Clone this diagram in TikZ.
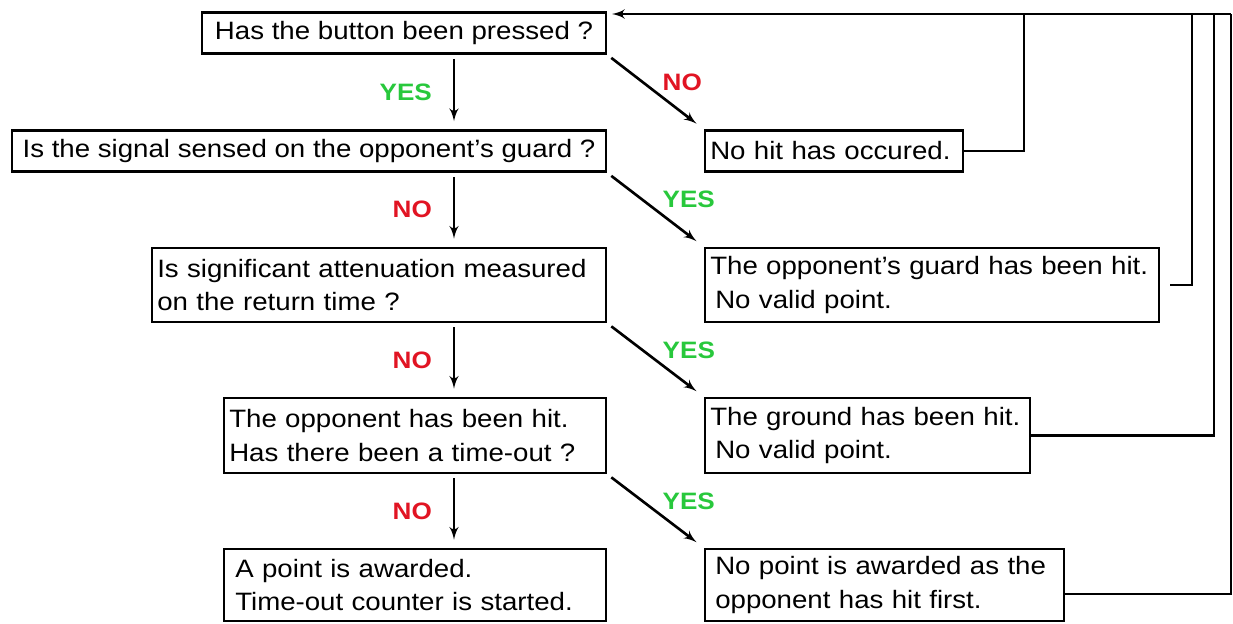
\documentclass[tikz,border=0pt]{standalone}
\usepackage{fontspec}
\setmainfont[FakeStretch=1.1]{Liberation Sans}
\usepackage{tikz}
\usetikzlibrary{positioning,arrows,calc,shapes}
\definecolor{yesgreen}{RGB}{40,200,60}
\definecolor{nored}{RGB}{225,20,35}
\tikzset{
    box/.style = {
        draw,
        shape=rectangle,
        line width=1.5pt,
        inner xsep=3pt,
        inner ysep=0pt,
        minimum height=0.82cm,
        font=\fontsize{14.3}{19.3}\selectfont,
        align=left
    },
    twoline/.style = {
        box,
        minimum height=1.48cm
    },
    answeryes/.style = {
        text=yesgreen,
        font=\fontsize{13.5}{16}\selectfont\bfseries
    },
    answerno/.style = {
        text=nored,
        font=\fontsize{13.5}{16}\selectfont\bfseries
    },
    flow/.style = {
        draw,
        ->,
        line width=1.5pt,
        shorten <=0.08cm,
        shorten >=0.16cm
    },
    feedback/.style = {
        draw,
        line width=1.5pt
    },
    >=latex',
}

\begin{document}
\begin{tikzpicture}

            \useasboundingbox (0,0) rectangle (24.66,-12.48);

            % questions, left column
            \node[box, minimum width=8.08cm, align=center] (pressed) at (8.08,-0.66) {Has the button been pressed ?};
            \node[box, minimum width=11.88cm, align=center] (guard_q) at (6.18,-3.02) {Is the signal sensed on the opponent's guard ?};
            \node[twoline, text width=8.87cm] (atten) at (7.58,-5.70) {Is significant attenuation measured\\on the return time ?};
            \node[twoline, text width=7.43cm, minimum height=1.5cm] (hit_q) at (8.30,-8.71) {The opponent has been hit.\\Has there been a time-out ?};
            \node[twoline, text width=7.43cm, minimum height=1.44cm] (award) at (8.30,-11.70) {\hspace{0.12cm}A point is awarded.\\\hspace{0.12cm}Time-out counter is started.};

            % outcomes, right column
            \node[box, text width=4.95cm] (no_hit) at (16.68,-3.02) {No hit has occured.};
            \node[twoline, text width=8.87cm] (guard_hit) at (18.64,-5.70) {The opponent's guard has been hit.\\\hspace{0.1cm}No valid point.};
            \node[twoline, text width=6.29cm, minimum height=1.5cm] (ground_hit) at (17.35,-8.71) {The ground has been hit.\\\hspace{0.1cm}No valid point.};
            \node[twoline, text width=6.97cm, minimum height=1.44cm] (first_hit) at (17.69,-11.70) {\hspace{0.1cm}No point is awarded as the\\\hspace{0.1cm}opponent has hit first.};

            \coordinate (col) at (9.08,0);
            \coordinate (bus_in) at (12.24,-0.28);
            \coordinate (bus_a) at (20.48,-0.28);
            \coordinate (bus_b) at (23.84,-0.28);
            \coordinate (bus_c) at (24.28,-0.28);
            \coordinate (bus_d) at (24.62,-0.28);

            \path[flow] (pressed.south -| col) -- (guard_q.north -| col) node[answeryes, midway, left=0.3cm] {YES};
            \path[flow] (guard_q.south -| col) -- (atten.north -| col) node[answerno, midway, left=0.3cm] {NO};
            \path[flow] (atten.south -| col) -- (hit_q.north -| col) node[answerno, midway, left=0.3cm] {NO};
            \path[flow] (hit_q.south -| col) -- (award.north -| col) node[answerno, midway, left=0.3cm] {NO};

            \path[flow, shorten <=0.1cm, shorten >=0.18cm] (pressed.south east) -- (no_hit.north west) node[answerno, midway, right, yshift=0.2cm] {NO};
            \path[flow, shorten <=0.1cm, shorten >=0.18cm] (guard_q.south east) -- (guard_hit.north west) node[answeryes, midway, right, yshift=0.2cm] {YES};
            \path[flow, shorten <=0.1cm, shorten >=0.18cm] (atten.south east) -- (ground_hit.north west) node[answeryes, midway, right, yshift=0.2cm] {YES};
            \path[flow, shorten <=0.1cm, shorten >=0.18cm] (hit_q.south east) -- (first_hit.north west) node[answeryes, midway, right, yshift=0.2cm] {YES};

            % back to the start
            \path[feedback, ->] (bus_d) -- (bus_in);
            \path[feedback] (no_hit.east) -| (bus_a);
            \path[feedback] ([xshift=0.2cm]guard_hit.east) -| (bus_b);
            \path[feedback] (ground_hit.east) -| (bus_c);
            \path[feedback] ([yshift=-0.18cm]first_hit.east) -| (bus_d);

        \end{tikzpicture}
\end{document}
